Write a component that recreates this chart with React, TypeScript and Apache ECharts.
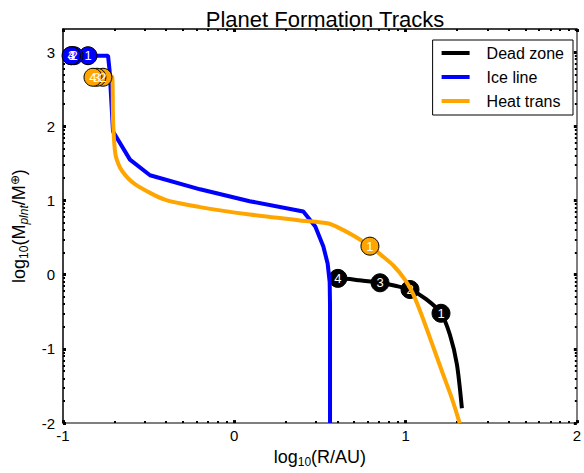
import React, { useEffect, useRef } from 'react';
import * as echarts from 'echarts';

const seriesNames = ['Dead zone', 'Ice line', 'Heat trans'];
const seriesColors = ['#000000', '#0000ff', '#ffa500'];

const deadZoneTrack: [number, number][] = [
  [0.56, -0.05], [0.605, -0.05], [0.73, -0.075], [0.851, -0.11], [0.94, -0.15],
  [1.026, -0.2], [1.12, -0.33], [1.207, -0.52], [1.259, -0.81], [1.3, -1.21], [1.329, -1.8],
];
const iceLineTrack: [number, number][] = [
  [-0.953, 2.95], [-0.737, 2.95], [-0.728, 2.75], [-0.708, 1.93], [-0.609, 1.55],
  [-0.492, 1.34], [-0.2, 1.15], [0.09, 0.99], [0.403, 0.85], [0.473, 0.65],
  [0.52, 0.38], [0.545, 0.15], [0.557, -0.1], [0.559, -0.4], [0.559, -2.0],
];
const heatTransTrack: [number, number][] = [
  [-0.825, 2.66], [-0.714, 2.67], [-0.708, 2.1], [-0.7, 1.75], [-0.69, 1.58],
  [-0.656, 1.4], [-0.58, 1.22], [-0.405, 1.01], [-0.2, 0.91], [0.09, 0.81],
  [0.384, 0.73], [0.55, 0.69], [0.62, 0.62], [0.7, 0.52], [0.792, 0.384],
  [0.86, 0.26], [0.93, 0.12], [0.996, -0.066], [1.04, -0.24], [1.09, -0.52],
  [1.142, -0.848], [1.212, -1.298], [1.271, -1.669], [1.316, -2.0],
];

const deadZoneMarkers: [number, number, string][] = [
  [1.207, -0.52, '1'], [1.026, -0.2, '2'], [0.851, -0.11, '3'], [0.605, -0.05, '4'],
];
const iceLineMarkers: [number, number, string][] = [
  [-0.854, 2.95, '1'], [-0.935, 2.95, '2'], [-0.95, 2.95, '3'], [-0.953, 2.95, '4'],
];
const heatTransMarkers: [number, number, string][] = [
  [0.792, 0.384, '1'], [-0.767, 2.66, '2'], [-0.802, 2.66, '3'], [-0.825, 2.66, '4'],
];

const xRange = [-1, 2];
const yRange = [-2, 3.31];
const xMajorTicks = [-1, 0, 1, 2];
const yMajorTicks = [-2, -1, 0, 1, 2, 3];
const minorFactors = [2, 3, 4, 5, 6, 7, 8, 9];
const xDecades = [-1, 0, 1];
const yDecades = [-2, -1, 0, 1, 2, 3];

const FONT = '"Liberation Sans", Arial, Helvetica, sans-serif';

function minorTicks(decades: number[], lo: number, hi: number) {
  const out: number[] = [];
  decades.forEach((d) => minorFactors.forEach((k) => {
    const v = d + Math.log10(k);
    if (v >= lo && v <= hi) out.push(v);
  }));
  return out;
}

export default function App() {
  const ref = useRef<HTMLDivElement>(null);
  useEffect(() => {
    if (!ref.current) return;
    const chart = echarts.init(ref.current, undefined, { renderer: 'svg' });
    const xMinor = minorTicks(xDecades, xRange[0], xRange[1]);
    const yMinor = minorTicks(yDecades, yRange[0], yRange[1]);

    const baseAxis = (pos: string, lineColor: string, major: boolean, showLabels: boolean, isX: boolean) => {
      const ticks = major ? (isX ? xMajorTicks : yMajorTicks) : (isX ? xMinor : yMinor);
      return {
        type: 'value',
        position: pos,
        min: isX ? xRange[0] : yRange[0],
        max: isX ? xRange[1] : yRange[1],
        interval: 1,
        axisLine: { show: major, onZero: false, lineStyle: { color: lineColor, width: 1.5 } },
        axisTick: {
          show: true, inside: true,
          length: major ? 3 : 2,
          customValues: ticks,
          lineStyle: { color: '#000', width: major ? 3 : 2 },
        },
        axisLabel: {
          show: showLabels,
          customValues: ticks,
          color: '#000', fontSize: 15, fontFamily: FONT,
          margin: isX ? 5 : 8,
        },
        splitLine: { show: false },
      };
    };

    const xMain: any = baseAxis('bottom', '#555', true, true, true);
    xMain.name = '{n|log}{s|10}{n|(R/AU)}';
    xMain.nameLocation = 'middle';
    xMain.nameGap = 19;
    xMain.nameTextStyle = {
      color: '#000', fontFamily: FONT, fontSize: 18,
      rich: {
        n: { fontSize: 18, fontFamily: FONT, color: '#000' },
        s: { fontSize: 12, fontFamily: FONT, color: '#000', padding: [10, 0, 0, 0] },
      },
    };
    const yMain: any = baseAxis('left', '#000', true, true, false);
    yMain.name = '{n|log}{s|10}{n|(M}{i|plnt}{n|/M}{u|⊕}{n|)}';
    yMain.nameLocation = 'middle';
    yMain.nameGap = 33;
    yMain.nameTextStyle = {
      color: '#000', fontFamily: FONT, fontSize: 18,
      rich: {
        n: { fontSize: 18, fontFamily: FONT, color: '#000' },
        s: { fontSize: 12, fontFamily: FONT, color: '#000', padding: [10, 0, 0, 0] },
        i: { fontSize: 12, fontFamily: FONT, fontStyle: 'italic', color: '#000', padding: [10, 0, 0, 0] },
        u: { fontSize: 12, fontFamily: FONT, color: '#000', padding: [0, 0, 8, 0] },
      },
    };

    const lineSeries = [deadZoneTrack, iceLineTrack, heatTransTrack];
    const markerSeries = [deadZoneMarkers, iceLineMarkers, heatTransMarkers];
    const series: any[] = [];
    seriesNames.forEach((name, i) => {
      series.push({
        name, type: 'line', xAxisIndex: 0, yAxisIndex: 0, z: 2 + i * 2,
        data: lineSeries[i], symbol: 'none', smooth: i === 1 ? false : 0.25,
        lineStyle: { color: seriesColors[i], width: 4 },
        itemStyle: { color: seriesColors[i] },
        clip: true,
      });
      series.push({
        name: name + ' markers', type: 'scatter', xAxisIndex: 0, yAxisIndex: 0, z: 3 + i * 2,
        data: markerSeries[i].map((m) => ({ value: [m[0], m[1]], name: m[2] })),
        symbol: 'circle', symbolSize: 18,
        itemStyle: { color: seriesColors[i], borderColor: '#000', borderWidth: 1, opacity: 1 },
        label: {
          show: true, position: 'inside', formatter: '{b}', color: '#fff',
          fontSize: 13, fontFamily: FONT, textBorderWidth: 0,
        },
      });
    });

    chart.setOption({
      animation: false,
      backgroundColor: '#fff',
      title: {
        text: 'Planet Formation Tracks', left: 320, top: 3, textAlign: 'center',
        textStyle: { fontSize: 22, fontWeight: 'normal', color: '#000', fontFamily: FONT },
      },
      legend: {
        data: seriesNames, orient: 'vertical', right: 11, top: 40, z: 20,
        icon: 'rect', itemWidth: 28, itemHeight: 4, itemGap: 8,
        padding: [5, 9, 6, 9],
        borderColor: '#000', borderWidth: 1, backgroundColor: '#fff', borderRadius: 0,
        textStyle: { fontSize: 16, color: '#000', fontFamily: FONT, padding: [0, 0, 0, 12] },
      },
      grid: { left: 63, right: 6, top: 29, bottom: 42, containLabel: false },
      xAxis: [
        xMain,
        baseAxis('bottom', '#555', false, false, true),
        baseAxis('top', '#000', true, false, true),
        baseAxis('top', '#000', false, false, true),
      ],
      yAxis: [
        yMain,
        baseAxis('left', '#000', false, false, false),
        baseAxis('right', '#555', true, false, false),
        baseAxis('right', '#555', false, false, false),
      ],
      series,
    });
    return () => chart.dispose();
  }, []);
  return <div ref={ref} style={{ position: 'fixed', left: 0, top: 0, width: 584, height: 473 }} />;
}
